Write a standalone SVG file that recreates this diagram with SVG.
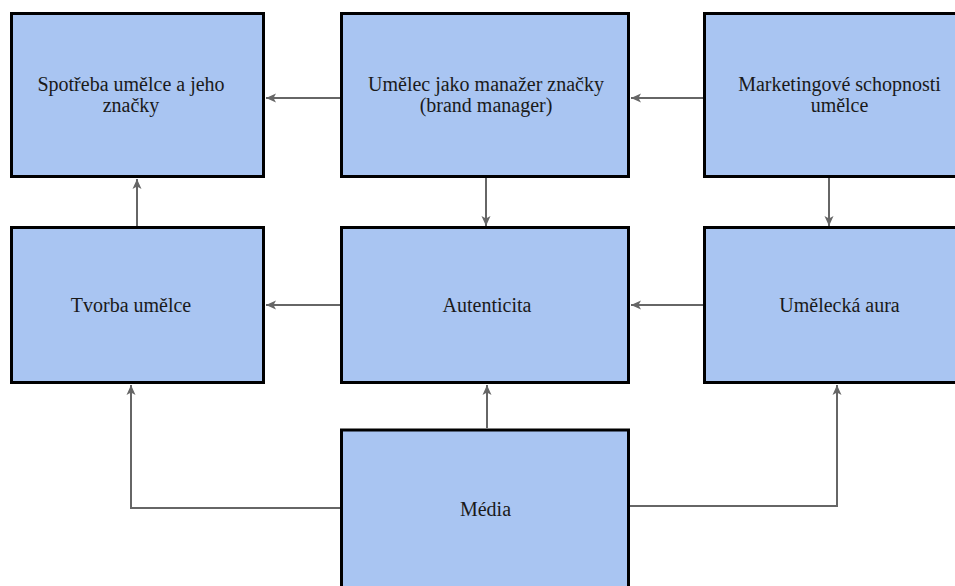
<svg xmlns="http://www.w3.org/2000/svg" width="955" height="586" viewBox="0 0 955 586">
<style>
.box{fill:#a9c5f2;stroke:#000;stroke-width:3}
.lbl{font-size:20px;fill:#1a1a1a;text-anchor:middle}
.edge{fill:none;stroke:#666;stroke-width:2;marker-end:url(#arr)}
</style>
<defs>
<marker id="arr" markerUnits="userSpaceOnUse" markerWidth="12" markerHeight="12" viewBox="0 0 12 12" refX="11" refY="6" orient="auto">
<path d="M1,1.5 L11,6 L1,10.5 L3.5,6 z" fill="#666"/>
</marker>
</defs>
<rect width="955" height="586" fill="#fff"/>
<g font-family="'Liberation Serif', 'Times New Roman', Times, serif">
<g id="n-spotreba"><rect class="box" x="11.5" y="13.5" width="252" height="163"/><text class="lbl" x="131" y="91">Spotřeba umělce a jeho</text><text class="lbl" x="131" y="112">značky</text></g>
<g id="n-manazer"><rect class="box" x="341.5" y="13.5" width="287" height="163"/><text class="lbl" x="486" y="91">Umělec jako manažer značky</text><text class="lbl" x="486" y="112">(brand manager)</text></g>
<g id="n-marketing"><rect class="box" x="704.5" y="13.5" width="270" height="163"/><text class="lbl" x="839.5" y="91">Marketingové schopnosti</text><text class="lbl" x="839.5" y="112">umělce</text></g>
<g id="n-tvorba"><rect class="box" x="11.5" y="227.5" width="252" height="155"/><text class="lbl" x="131" y="312">Tvorba umělce</text></g>
<g id="n-autenticita"><rect class="box" x="341.5" y="227.5" width="287" height="155"/><text class="lbl" x="487" y="312">Autenticita</text></g>
<g id="n-aura"><rect class="box" x="704.5" y="227.5" width="270" height="155"/><text class="lbl" x="839.5" y="312">Umělecká aura</text></g>
<g id="n-media"><rect class="box" x="341.5" y="430" width="287" height="180"/><text class="lbl" x="485.5" y="516">Média</text></g>
</g>
<g id="connectors">
<path class="edge" d="M340,98 L266,98"/>
<path class="edge" d="M703,98 L631,98"/>
<path class="edge" d="M137,226 L137,179"/>
<path class="edge" d="M486,178 L486,226"/>
<path class="edge" d="M829,178 L829,226"/>
<path class="edge" d="M340,305 L266,305"/>
<path class="edge" d="M703,305 L631,305"/>
<path class="edge" d="M487,428 L487,385"/>
<path class="edge" d="M340,508 L131,508 L131,385"/>
<path class="edge" d="M630,506 L837,506 L837,385"/>
</g>
</svg>
